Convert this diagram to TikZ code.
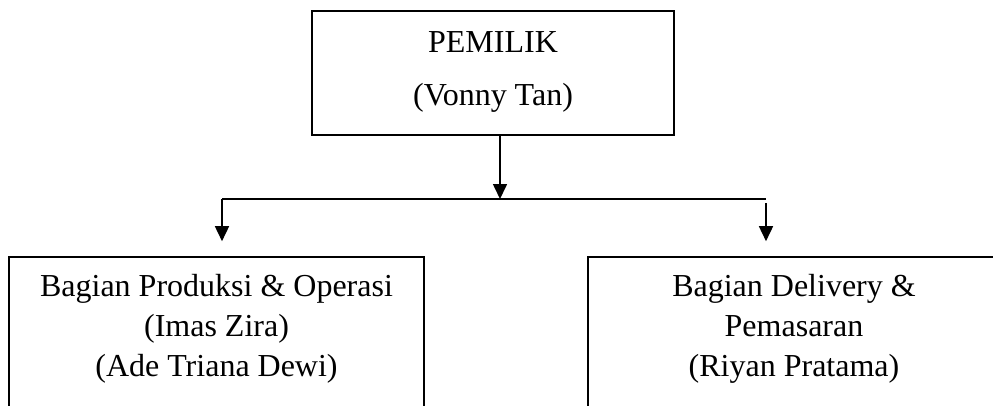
\documentclass[tikz,border=0pt]{standalone}
\usepackage{fontspec}
\setmainfont{Liberation Serif}
\usetikzlibrary{arrows.meta}
\begin{document}
\begin{tikzpicture}[x=1pt,y=-1pt,
  box/.style={draw=black,line width=1.6pt,rectangle,inner sep=0pt},
  txt/.style={anchor=base,inner sep=0pt,font=\fontsize{32}{38}\selectfont},
  conn/.style={draw=black,line width=1.6pt},
  arr/.style={conn,-{Triangle[length=15pt,width=14pt]}}]
\useasboundingbox (0,0) rectangle (993,405);
\clip (0,0) rectangle (993,405);
\fill[white] (0,0) rectangle (993,405);
% boxes
\node[box,minimum width=362pt,minimum height=124pt] (top) at (493,73) {};
\node[box,minimum width=415pt,minimum height=180pt] (lbox) at (216.5,347) {};
\node[box,minimum width=412pt,minimum height=180pt] (rbox) at (794,347) {};
% texts
\node[txt] (t1) at (493,52) {PEMILIK};
\node[txt] (t2) at (493,105) {(Vonny Tan)};
\node[txt] (l1) at (216.5,296) {Bagian Produksi \& Operasi};
\node[txt] (l2) at (216.5,336) {(Imas Zira)};
\node[txt] (l3) at (216.5,376) {(Ade Triana Dewi)};
\node[txt] (r1) at (794,296) {Bagian Delivery \&};
\node[txt] (r2) at (794,336) {Pemasaran};
\node[txt] (r3) at (794,376) {(Riyan Pratama)};
% connectors
\coordinate (j) at (500,199);
\coordinate (hl) at (222,199);
\coordinate (hr) at (766,199);
\draw[arr] (top.south -| j) -- (j);
\draw[conn] (hl) -- (hr);
\draw[arr] (hl) -- ([yshift=15pt]lbox.north -| hl);
\draw[arr] ([yshift=-4pt]hr) -- ([yshift=15pt]rbox.north -| hr);
\end{tikzpicture}
\end{document}
